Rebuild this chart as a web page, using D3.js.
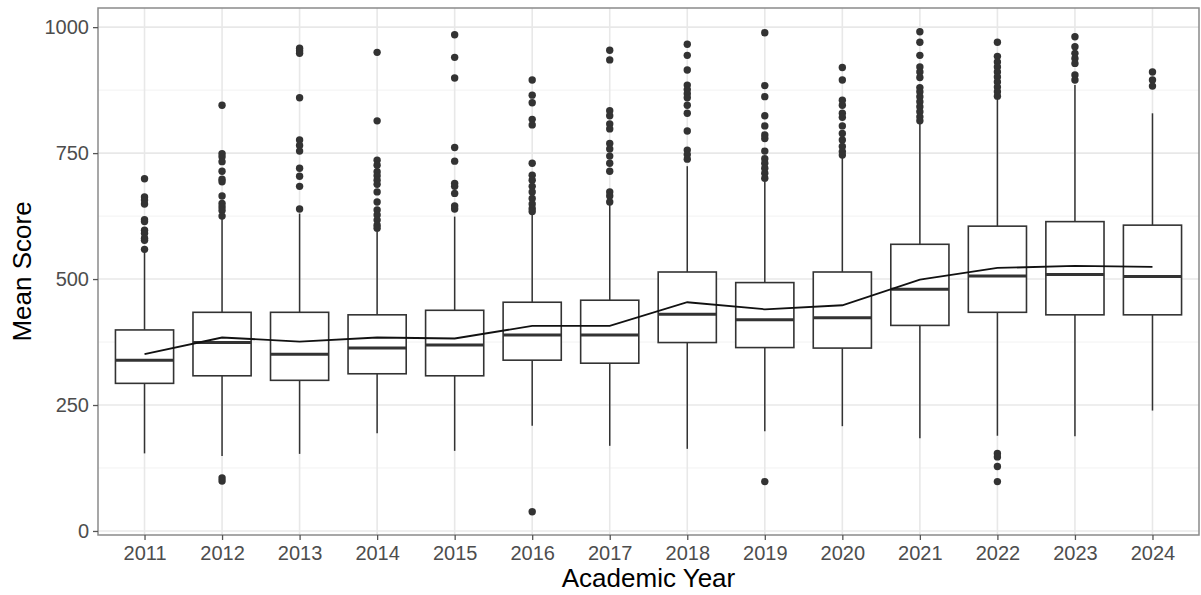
<!DOCTYPE html>
<html>
<head>
<meta charset="utf-8">
<script src="https://cdn.jsdelivr.net/npm/d3@7"></script>
<style>
body { margin: 0; background: #fff; }
text { font-family: "Liberation Sans", Arial, sans-serif; }
</style>
</head>
<body>
<script>
let years = ["2011","2012","2013","2014","2015","2016","2017","2018","2019","2020","2021","2022","2023","2024"];
let whiskerLow = [154,149,153,194,159,209,169,163,198,208,184,189,188,239];
let q1 = [293,308,299,312,308,339,333,374,364,363,408,434,429,429];
let median = [339,374,351,363,369,389,389,430,419,423,480,506,509,505];
let q3 = [399,434,434,429,438,454,458,514,493,514,569,605,614,607];
let whiskerHigh = [556,620,630,597,624,627,650,724,693,743,809,858,885,829];
let means = [351,384,376,384,382,407,407,454,440,448,499,522,526,524];
let outliers = [
  [699,663,657,649,618,614,597,591,581,577,559],
  [845,749,743,733,714,698,693,665,650,643,636,625,105,99],
  [958,953,948,860,776,765,754,720,704,684,639],
  [950,814,736,726,713,705,696,688,673,653,637,627,617,607,601],
  [985,940,899,761,734,690,684,670,645,639],
  [895,865,850,817,806,730,706,696,684,673,660,649,640,634,38],
  [954,935,834,824,808,798,769,758,744,730,714,673,665,653],
  [966,944,915,885,876,868,860,845,829,794,756,747,738],
  [989,884,862,824,804,786,779,754,739,730,720,710,700,98],
  [920,895,855,845,829,821,804,789,776,763,753,746],
  [991,970,944,921,911,900,880,872,862,852,842,832,822,814],
  [970,942,931,921,911,901,891,881,872,863,154,147,128,98],
  [981,961,948,938,928,905,895],
  [911,895,883]
];
let yTicks = [0,250,500,750,1000];
let yMinor = [125,375,625,875];

let width = 1201, height = 595;
let panel = {left: 98, right: 1199, top: 8, bottom: 535};

let svg = d3.select("body").append("svg").attr("width", width).attr("height", height);

let x = d3.scalePoint().domain(years).range([panel.left, panel.right]).padding(0.6);
let y = d3.scaleLinear().domain([-8, 1038]).range([panel.bottom, panel.top]);
let boxW = x.step() * 0.75;

// grid
svg.append("g").selectAll("line").data(yMinor).join("line")
	.attr("x1", panel.left).attr("x2", panel.right)
	.attr("y1", d => y(d)).attr("y2", d => y(d))
	.attr("stroke", "#f2f2f2").attr("stroke-width", 1);
svg.append("g").selectAll("line").data(yTicks).join("line")
	.attr("x1", panel.left).attr("x2", panel.right)
	.attr("y1", d => y(d)).attr("y2", d => y(d))
	.attr("stroke", "#e8e8e8").attr("stroke-width", 1.6);
svg.append("g").selectAll("line").data(years).join("line")
	.attr("x1", d => x(d)).attr("x2", d => x(d))
	.attr("y1", panel.top).attr("y2", panel.bottom)
	.attr("stroke", "#e8e8e8").attr("stroke-width", 1.6);

// boxes
let data = years.map((yr, i) => ({yr: yr, lo: whiskerLow[i], q1: q1[i], med: median[i], q3: q3[i], hi: whiskerHigh[i], out: outliers[i]}));
let box = svg.append("g").selectAll("g").data(data).join("g");
box.append("line")
	.attr("x1", d => x(d.yr)).attr("x2", d => x(d.yr))
	.attr("y1", d => y(d.q3)).attr("y2", d => y(d.hi))
	.attr("stroke", "#333").attr("stroke-width", 1.5);
box.append("line")
	.attr("x1", d => x(d.yr)).attr("x2", d => x(d.yr))
	.attr("y1", d => y(d.q1)).attr("y2", d => y(d.lo))
	.attr("stroke", "#333").attr("stroke-width", 1.5);
box.append("rect")
	.attr("x", d => x(d.yr) - boxW / 2).attr("width", boxW)
	.attr("y", d => y(d.q3)).attr("height", d => y(d.q1) - y(d.q3))
	.attr("fill", "#fff").attr("stroke", "#333").attr("stroke-width", 1.6);
box.append("line")
	.attr("x1", d => x(d.yr) - boxW / 2).attr("x2", d => x(d.yr) + boxW / 2)
	.attr("y1", d => y(d.med)).attr("y2", d => y(d.med))
	.attr("stroke", "#333").attr("stroke-width", 3);
box.selectAll("circle").data(d => d.out.map(v => ({yr: d.yr, v: v}))).join("circle")
	.attr("cx", d => x(d.yr)).attr("cy", d => y(d.v))
	.attr("r", 3.7).attr("fill", "#333");

// mean line
let line = d3.line()
	.x((d, i) => x(years[i]))
	.y(d => y(d));
svg.append("path")
	.datum(means)
	.attr("fill", "none")
	.attr("stroke", "#111")
	.attr("stroke-width", 1.8)
	.attr("d", line);

// panel border
svg.append("rect")
	.attr("x", panel.left).attr("y", panel.top)
	.attr("width", panel.right - panel.left).attr("height", panel.bottom - panel.top)
	.attr("fill", "none").attr("stroke", "#8a8a8a").attr("stroke-width", 1.5);

// axes
let xAxis = svg.append("g")
	.attr("transform", "translate(0," + panel.bottom + ")")
	.call(d3.axisBottom(x).tickSize(5).tickPadding(6));
let yAxis = svg.append("g")
	.attr("transform", "translate(" + panel.left + ",0)")
	.call(d3.axisLeft(y).tickValues(yTicks).tickFormat(d3.format("d")).tickSize(5).tickPadding(4));
[xAxis, yAxis].forEach(a => {
	a.select(".domain").remove();
	a.selectAll(".tick line").attr("stroke", "#555").attr("stroke-width", 1.3);
	a.selectAll(".tick text").attr("fill", "#4d4d4d").style("font-size", "20px");
});

svg.append("text")
	.attr("x", (panel.left + panel.right) / 2).attr("y", 587)
	.attr("text-anchor", "middle")
	.style("font-size", "26px").attr("fill", "#000")
	.text("Academic Year");
svg.append("text")
	.attr("transform", "translate(31," + ((panel.top + panel.bottom) / 2) + ") rotate(-90)")
	.attr("text-anchor", "middle")
	.style("font-size", "26px").attr("fill", "#000")
	.text("Mean Score");
</script>
</body>
</html>
